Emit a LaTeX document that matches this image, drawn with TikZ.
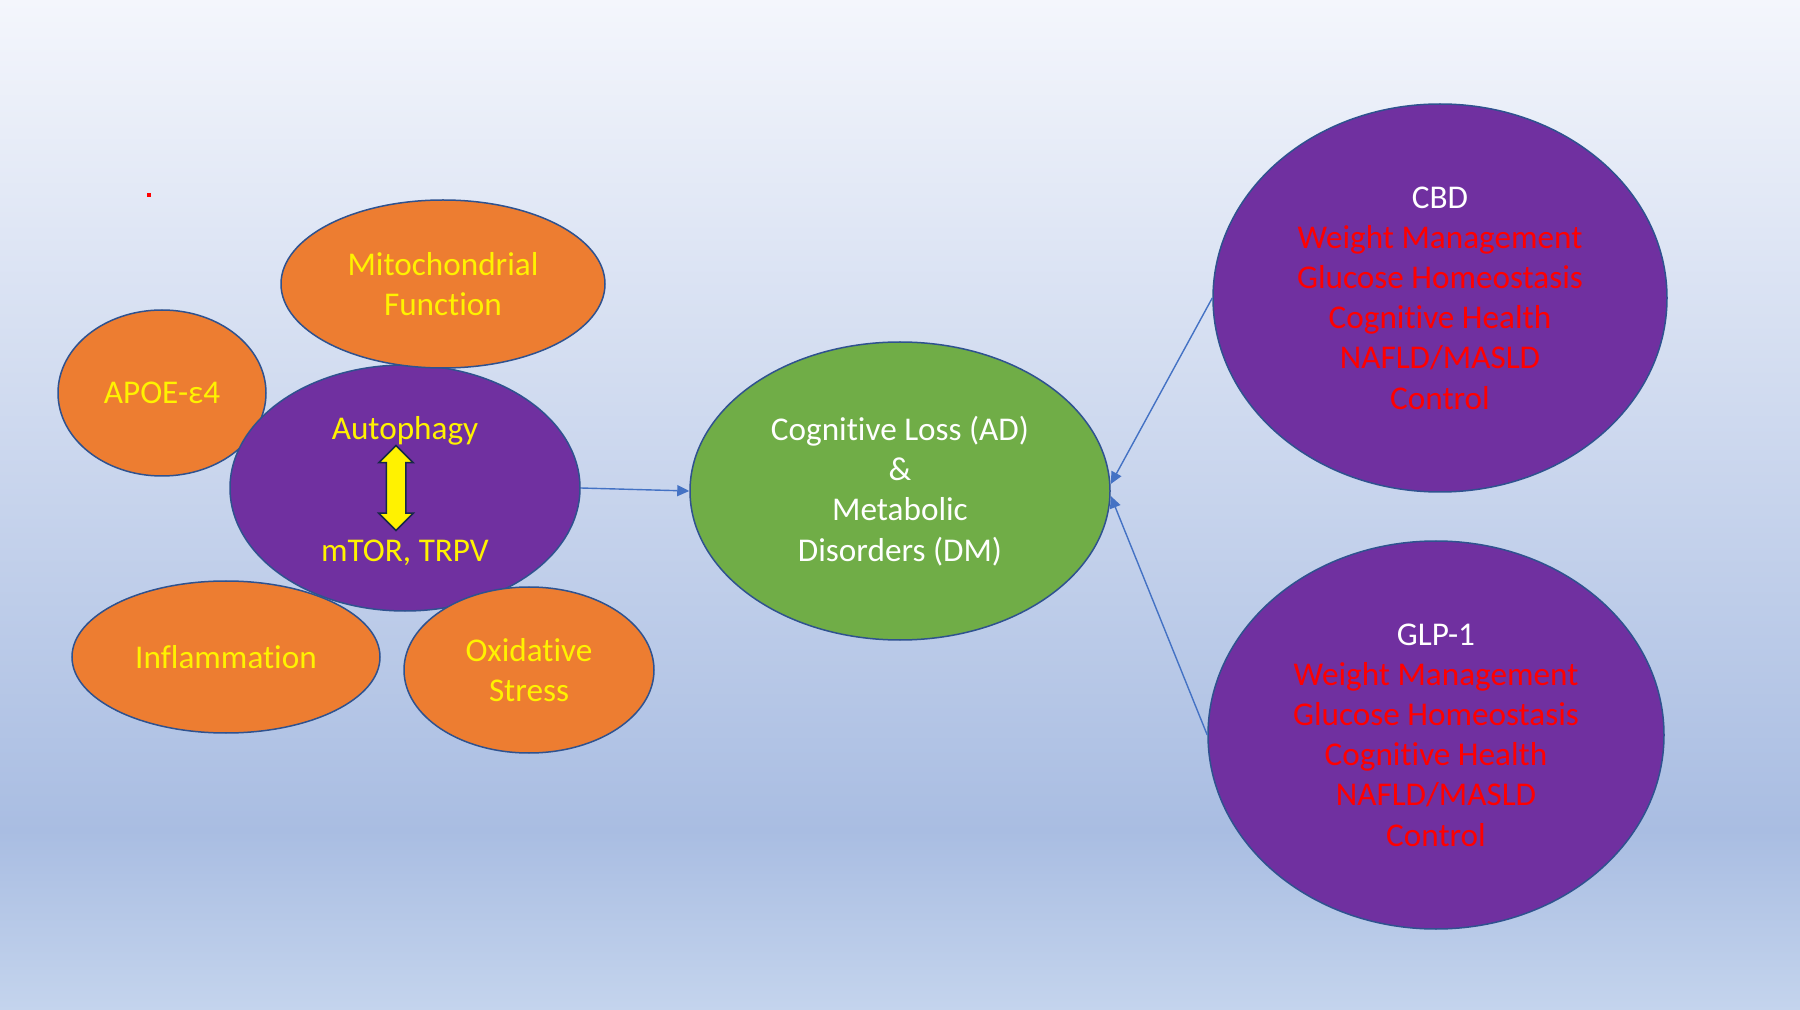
\documentclass[tikz,border=0pt]{standalone}
\usepackage{fontspec}
\setmainfont{Carlito}[Ligatures=NoCommon]
\usepackage{xcolor}
\usepackage{tikz}
\usetikzlibrary{shapes.geometric, shapes.arrows, arrows.meta, positioning}

\definecolor{bgtop}{HTML}{F4F6FC}
\definecolor{bgmid}{HTML}{A9BDE2}
\definecolor{bgbot}{HTML}{C4D4ED}
\definecolor{orangefill}{HTML}{ED7D31}
\definecolor{purplefill}{HTML}{7030A0}
\definecolor{greenfill}{HTML}{70AD47}
\definecolor{edgeblue}{HTML}{2F528F}
\definecolor{linkblue}{HTML}{4472C4}

\tikzset{
    blob/.style={ellipse, draw=edgeblue, line width=0.75pt, inner sep=0pt, align=center,
        font=\fontsize{16.6}{20.1}\selectfont},
    factor/.style={blob, fill=orangefill, text=yellow},
    hub/.style={blob, fill=purplefill},
    outcome/.style={blob, fill=greenfill, text=white},
    remedy/.style={blob, fill=purplefill, text=red},
    ytext/.style={text=yellow, inner sep=0pt, font=\fontsize{16.6}{20.1}\selectfont},
    updown/.style={double arrow, rotate=90, fill=yellow, draw=edgeblue!50!black, line width=0.75pt,
        inner sep=4.5pt, minimum height=42.5pt, double arrow head extend=3.75pt},
    link/.style={draw=linkblue, line width=0.7pt, -{Triangle[length=6pt, width=5.5pt]}}
}

\begin{document}
\begin{tikzpicture}[x=0.5pt, y=-0.5pt]
    \useasboundingbox (0, 0) rectangle (1800, 1010);
    \shade[top color=bgtop, bottom color=bgmid] (0, 0) rectangle (1800, 832);
    \shade[top color=bgmid, bottom color=bgbot] (0, 830) rectangle (1800, 1010);
    \fill[red] (147, 193) rectangle (151, 197);

    \node[factor, minimum width=104pt, minimum height=83pt] (apoe) at (162, 393) {APOE-ε4};
    \node[hub, minimum width=175pt, minimum height=123pt] (auto) at (405, 488) {};
    \node[factor, minimum width=162pt, minimum height=84pt] (mito) at (443, 284) {Mitochondrial\\Function};
    \node[factor, minimum width=154pt, minimum height=76pt] (infl) at (226, 657) {Inflammation};
    \node[factor, minimum width=125pt, minimum height=83pt] (oxid) at (529, 670) {Oxidative\\Stress};

    \node[ytext] (autotxt) at ([yshift=28.5pt]auto.center) {Autophagy};
    \node[ytext] (mtortxt) at ([yshift=-32.5pt]auto.center) {mTOR, TRPV};
    \node[updown] (swap) at ([xshift=-4.5pt]auto.center) {};

    \node[outcome, minimum width=210pt, minimum height=149pt] (cogn) at (900, 491)
        {Cognitive Loss (AD)\\\&\\Metabolic\\Disorders (DM)};

    \node[remedy, minimum width=227pt, minimum height=194pt] (cbd) at (1440, 298)
        {\textcolor{white}{CBD}\\Weight Management\\Glucose Homeostasis\\Cognitive Health\\NAFLD/MASLD\\Control};
    \node[remedy, minimum width=228pt, minimum height=194pt] (glp) at (1436, 735)
        {\textcolor{white}{GLP-1}\\Weight Management\\Glucose Homeostasis\\Cognitive Health\\NAFLD/MASLD\\Control};

    \draw[link] (auto.east) -- (cogn.west);
    \draw[link] (cbd.west) -- ([yshift=3.5pt]cogn.east);
    \draw[link] (glp.west) -- ([yshift=-2.5pt]cogn.east);
\end{tikzpicture}
\end{document}
